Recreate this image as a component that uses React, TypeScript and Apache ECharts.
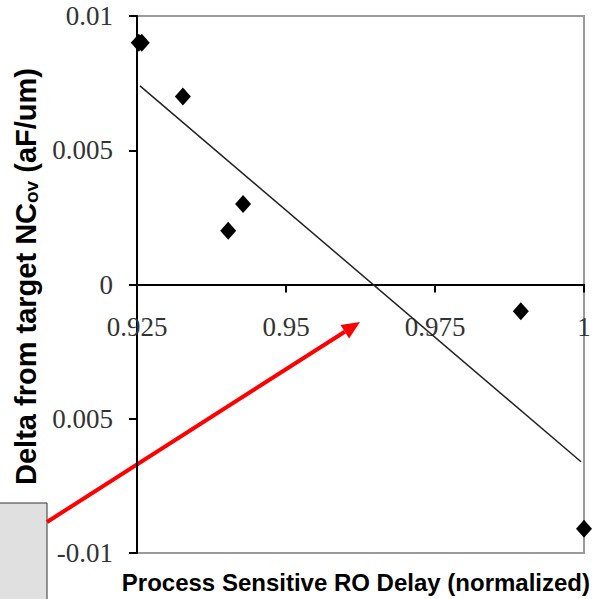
import React, { useEffect, useRef } from "react";
import * as echarts from "echarts";

const xTicks = ["0.925", "0.95", "0.975", "1"];
const yTickLabels: Record<string, string> = {
  "0.01": "0.01",
  "0.005": "0.005",
  "0": "0",
  "-0.005": "0.005",
  "-0.01": "-0.01",
};
const pointX = [0.9253, 0.9258, 0.9327, 0.9403, 0.9428, 0.9894, 1.0];
const pointY = [0.009, 0.009, 0.007, 0.002, 0.003, -0.001, -0.0091];
const trendX = [0.9255, 0.9995];
const trendY = [0.0074, -0.0066];

export default function App() {
  const ref = useRef<HTMLDivElement>(null);
  useEffect(() => {
    if (!ref.current) return;
    const chart = echarts.init(ref.current, null, { renderer: "svg" });
    const serif = "Liberation Serif";
    const sans = "Liberation Sans";
    const fmt = (v: number) => String(parseFloat(v.toFixed(4)));
    const gridTop = 16;
    const gridBottom = 46;
    const plotH = 599 - gridTop - gridBottom;
    chart.setOption({
      animation: false,
      backgroundColor: "#fff",
      grid: {
        left: 137,
        top: gridTop,
        right: 11,
        bottom: gridBottom,
        show: true,
        borderColor: "#9a9a9a",
        borderWidth: 2,
      },
      xAxis: {
        type: "value",
        min: 0.925,
        max: 1,
        interval: 0.025,
        offset: -plotH / 2,
        axisLine: { show: true, onZero: false, lineStyle: { color: "#000", width: 2 } },
        axisTick: { show: true, length: 8, lineStyle: { color: "#000", width: 2 } },
        splitLine: { show: false },
        axisLabel: {
          margin: 29,
          fontFamily: serif,
          fontSize: 27,
          color: "#333",
          formatter: (v: number) => {
            const s = fmt(v);
            return xTicks.includes(s) ? s : "";
          },
        },
      },
      yAxis: {
        type: "value",
        min: -0.01,
        max: 0.01,
        interval: 0.005,
        name: "{a|Delta from target NC}{b|ov}{a| (aF/um)}",
        nameLocation: "middle",
        nameGap: 92,
        nameTextStyle: {
          padding: [0, 0, 0, 16],
          rich: {
            a: { fontFamily: sans, fontWeight: "bold", fontSize: 29, color: "#000" },
            b: { fontFamily: sans, fontWeight: "bold", fontSize: 19, color: "#000", padding: [12, 0, 0, 0] },
          },
        },
        axisLine: { show: true, lineStyle: { color: "#000", width: 2 } },
        axisTick: { show: true, length: 8, lineStyle: { color: "#000", width: 2 } },
        splitLine: { show: false },
        axisLabel: {
          margin: 24,
          fontFamily: serif,
          fontSize: 27,
          color: "#333",
          formatter: (v: number) => yTickLabels[fmt(v)] ?? "",
        },
      },
      graphic: [
        {
          type: "text",
          right: 5,
          top: 570,
          style: {
            text: "Process Sensitive RO Delay (normalized)",
            fontFamily: sans,
            fontWeight: "bold",
            fontSize: 24,
            fill: "#000",
          },
        },
        {
          type: "rect",
          shape: { x: -2, y: 503, width: 49, height: 100 },
          style: { fill: "#e0e0e0", stroke: "#333", lineWidth: 1 },
        },
        {
          type: "line",
          shape: { x1: 47, y1: 522, x2: 344.8, y2: 331.7 },
          style: { stroke: "#ff0000", lineWidth: 4 },
        },
        {
          type: "polygon",
          shape: { points: [[360, 322], [349.1, 338.4], [340.5, 325.0]] },
          style: { fill: "#ff0000" },
        },
      ],
      series: [
        {
          type: "line",
          data: trendX.map((x, i) => [x, trendY[i]]),
          showSymbol: false,
          lineStyle: { color: "#222", width: 1.5 },
          z: 3,
        },
        {
          type: "scatter",
          data: pointX.map((x, i) => [x, pointY[i]]),
          symbol: "diamond",
          symbolSize: [16, 18],
          itemStyle: { color: "#000", opacity: 1 },
          z: 4,
        },
      ],
    });
    return () => chart.dispose();
  }, []);
  return (
    <div
      ref={ref}
      style={{ position: "absolute", left: 0, top: 0, width: 595, height: 599 }}
    />
  );
}
